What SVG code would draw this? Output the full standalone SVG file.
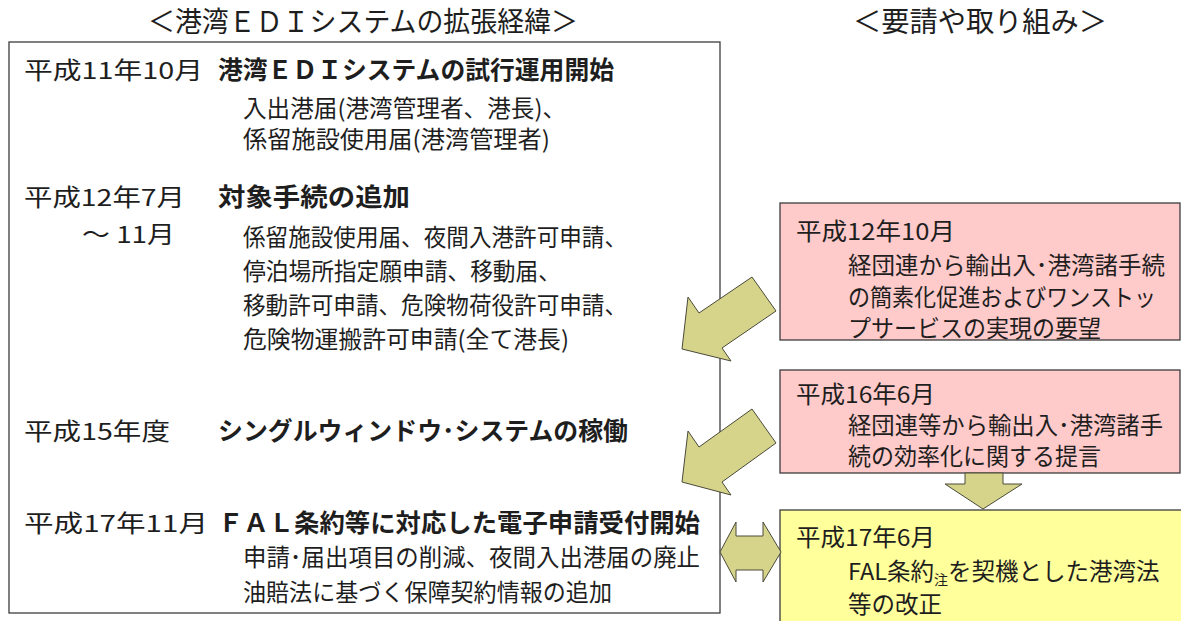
<svg xmlns="http://www.w3.org/2000/svg" width="1181" height="621" viewBox="0 0 1181 621">
<style>
text{font-family:"Noto Sans CJK JP","Noto Sans CJK SC",sans-serif;fill:#1e1e1e}
.t{font-size:28px}
.n{font-size:23.5px}
.b{font-size:25px;font-weight:bold}
.box{stroke:#3c3c3c;stroke-width:1.3}
.arr{fill:#d6d48a;stroke:#4a4a3a;stroke-width:1}
</style>
<rect width="1181" height="621" fill="#fff"/>
<g id="titles">
<text class="t" x="148" y="32" textLength="430" lengthAdjust="spacingAndGlyphs">＜港湾ＥＤＩシステムの拡張経緯＞</text>
<text class="t" x="853" y="32" textLength="254" lengthAdjust="spacingAndGlyphs">＜要請や取り組み＞</text>
</g>
<g id="history">
<rect class="box" x="9" y="42" width="711" height="571" fill="#fff"/>
<text class="n" x="24" y="79" textLength="179" lengthAdjust="spacingAndGlyphs">平成11年10月</text>
<text class="b" x="218" y="79" textLength="396" lengthAdjust="spacingAndGlyphs">港湾ＥＤＩシステムの試行運用開始</text>
<text class="n" x="243" y="117" textLength="323" lengthAdjust="spacingAndGlyphs">入出港届(港湾管理者、港長)、</text>
<text class="n" x="243" y="148" textLength="307" lengthAdjust="spacingAndGlyphs">係留施設使用届(港湾管理者)</text>
<text class="n" x="24" y="206" textLength="161" lengthAdjust="spacingAndGlyphs">平成12年7月</text>
<text class="b" x="218" y="206" textLength="192" lengthAdjust="spacingAndGlyphs">対象手続の追加</text>
<text class="n" x="82" y="243" textLength="93" lengthAdjust="spacingAndGlyphs">～ 11月</text>
<text class="n" x="243" y="246" textLength="384" lengthAdjust="spacingAndGlyphs">係留施設使用届、夜間入港許可申請、</text>
<text class="n" x="243" y="280" textLength="318" lengthAdjust="spacingAndGlyphs">停泊場所指定願申請、移動届、</text>
<text class="n" x="243" y="314" textLength="384" lengthAdjust="spacingAndGlyphs">移動許可申請、危険物荷役許可申請、</text>
<text class="n" x="243" y="348" textLength="326" lengthAdjust="spacingAndGlyphs">危険物運搬許可申請(全て港長)</text>
<text class="n" x="24" y="440" textLength="146" lengthAdjust="spacingAndGlyphs">平成15年度</text>
<text class="b" x="218" y="440" textLength="410" lengthAdjust="spacingAndGlyphs">シングルウィンドウ･システムの稼働</text>
<text class="n" x="24" y="532" textLength="184" lengthAdjust="spacingAndGlyphs">平成17年11月</text>
<text class="b" x="218" y="532" textLength="482" lengthAdjust="spacingAndGlyphs">ＦＡＬ条約等に対応した電子申請受付開始</text>
<text class="n" x="243" y="566" textLength="457" lengthAdjust="spacingAndGlyphs">申請･届出項目の削減、夜間入出港届の廃止</text>
<text class="n" x="243" y="601" textLength="369" lengthAdjust="spacingAndGlyphs">油賠法に基づく保障契約情報の追加</text>
</g>
<g id="req1">
<rect class="box" x="780" y="203" width="400" height="137" fill="#ffcaca"/>
<text class="n" x="796" y="240" textLength="159" lengthAdjust="spacingAndGlyphs">平成12年10月</text>
<text class="n" x="848" y="274" textLength="317" lengthAdjust="spacingAndGlyphs">経団連から輸出入･港湾諸手続</text>
<text class="n" x="848" y="306" textLength="308" lengthAdjust="spacingAndGlyphs">の簡素化促進およびワンストッ</text>
<text class="n" x="848" y="337" textLength="253" lengthAdjust="spacingAndGlyphs">プサービスの実現の要望</text>
</g>
<g id="req2">
<rect class="box" x="780" y="370" width="400" height="103" fill="#ffcaca"/>
<text class="n" x="796" y="403" textLength="139" lengthAdjust="spacingAndGlyphs">平成16年6月</text>
<text class="n" x="848" y="434" textLength="315" lengthAdjust="spacingAndGlyphs">経団連等から輸出入･港湾諸手</text>
<text class="n" x="848" y="465" textLength="253" lengthAdjust="spacingAndGlyphs">続の効率化に関する提言</text>
</g>
<g id="req3">
<rect class="box" x="780" y="510" width="402" height="115" fill="#ffff9c"/>
<text class="n" x="796" y="546" textLength="139" lengthAdjust="spacingAndGlyphs">平成17年6月</text>
<text class="n" x="848" y="580">FAL条約<tspan font-size="14" dy="5">注</tspan><tspan dy="-5">を契機とした港湾法</tspan></text>
<text class="n" x="848" y="613">等の改正</text>
</g>
<g id="connectors">
<polygon class="arr" points="682,349 688,297 699,313 752,277 776,311 722,348 731,361"/>
<polygon class="arr" points="682,482 688,431 699,447 752,409 776,443 722,482 731,495"/>
<polygon class="arr" points="720,552 736,522 736,536 763,536 763,522 781,552 763,582 763,570 736,570 736,582"/>
<polygon class="arr" points="965,473 1003,473 1003,484 1022,484 983,509 945,484 965,484"/>
</g>
</svg>
